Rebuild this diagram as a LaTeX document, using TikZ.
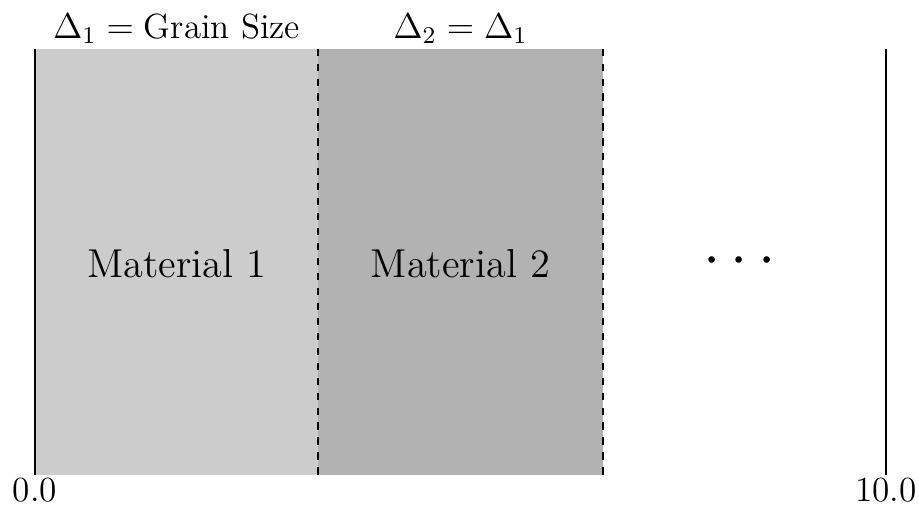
\documentclass[tikz,border=0pt]{standalone}
\usepackage{tikz}
\usetikzlibrary{positioning, calc}

\begin{document}
\begin{tikzpicture}[x=1cm, y=1cm]

    % Picture frame
    \useasboundingbox (-0.411, -0.353) rectangle (10.388, 5.576);

    \tikzset{
        bound/.style={line width=0.7pt},
        grainbound/.style={line width=0.7pt, dash pattern=on 2.4pt off 2.6pt},
        toplabel/.style={font=\fontsize{11.7}{14}\selectfont},
        matlabel/.style={font=\fontsize{13.5}{16}\selectfont},
        endlabel/.style={below, inner sep=1pt, font=\fontsize{11.8}{14}\selectfont}
    }

    % --- Grains ---
    \fill[black!20] (0, 0) rectangle (3.33, 5);
    \fill[black!30] (3.33, 0) rectangle (6.67, 5);

    % Domain ends
    \coordinate (lo) at (0, 0);
    \coordinate (hi) at (10, 0);
    \draw[bound] (lo) -- (0, 5);
    \draw[bound] (hi) -- (10, 5);

    % Grain boundaries
    \draw[grainbound] (3.33, 0) -- (3.33, 5);
    \draw[grainbound] (6.67, 0) -- (6.67, 5);

    % --- Labels ---
    \node[toplabel] (size1) at (1.665, 5.24) {$\Delta_1 = \mbox{Grain Size}$};
    \node[toplabel] (size2) at (5.0, 5.24) {$\Delta_2 = \Delta_1$};

    \node[matlabel] (mat1) at (1.665, 2.48) {Material 1};
    \node[matlabel] (mat2) at (5.0, 2.48) {Material 2};
    \node[font=\fontsize{20.7}{24}\selectfont] (more) at (8.28, 2.5) {$\cdots$};

    \node[endlabel] (start) at (lo) {0.0};
    \node[endlabel] (stop) at (hi) {10.0};

\end{tikzpicture}
\end{document}
